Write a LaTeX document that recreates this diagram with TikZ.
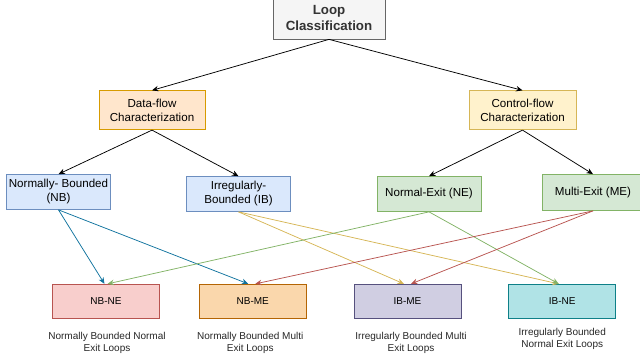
\documentclass[tikz,border=0pt]{standalone}
\usepackage{fontspec}
\setmainfont{Liberation Sans}
\usetikzlibrary{positioning,arrows.meta}

\definecolor{loopfill}{HTML}{F5F5F5}
\definecolor{loopline}{HTML}{666666}
\definecolor{looptext}{HTML}{333333}
\definecolor{dffill}{HTML}{FFE6CC}
\definecolor{dfline}{HTML}{D79B00}
\definecolor{cffill}{HTML}{FFF2CC}
\definecolor{cfline}{HTML}{D6B656}
\definecolor{bfill}{HTML}{DAE8FC}
\definecolor{bline}{HTML}{6C8EBF}
\definecolor{efill}{HTML}{D5E8D4}
\definecolor{eline}{HTML}{82B366}
\definecolor{nbnefill}{HTML}{F8CECC}
\definecolor{nbneline}{HTML}{B85450}
\definecolor{nbmefill}{HTML}{FAD7AC}
\definecolor{nbmeline}{HTML}{B46504}
\definecolor{ibmefill}{HTML}{D0CEE2}
\definecolor{ibmeline}{HTML}{56517E}
\definecolor{ibnefill}{HTML}{B0E3E6}
\definecolor{ibneline}{HTML}{0E8088}
\definecolor{nbarrow}{HTML}{10739E}
\definecolor{ibarrow}{HTML}{D6B656}
\definecolor{nearrow}{HTML}{82B366}
\definecolor{mearrow}{HTML}{B85450}

\tikzset{
  box/.style={draw, line width=0.75pt, inner sep=1pt, align=center,
    font=\fontsize{11.6}{14}\selectfont},
  rootbox/.style={box, fill=loopfill, draw=loopline, text=looptext,
    minimum width=112pt, minimum height=42pt,
    font=\bfseries\fontsize{13.3}{16}\selectfont},
  dfbox/.style={box, fill=dffill, draw=dfline, minimum width=106pt, minimum height=39pt},
  cfbox/.style={box, fill=cffill, draw=cfline, minimum width=107pt, minimum height=39pt},
  bbox/.style={box, fill=bfill, draw=bline, minimum width=104pt, minimum height=35pt},
  ebox/.style={box, fill=efill, draw=eline, minimum width=104pt, minimum height=35pt},
  leaf/.style={box, minimum width=107pt, minimum height=34pt,
    font=\fontsize{10}{12}\selectfont},
  capnote/.style={align=center, inner sep=0pt, text=black!85,
    font=\fontsize{10}{12}\selectfont},
  link/.style={-{Stealth[length=6.5pt,width=5.5pt]}, line width=0.75pt},
}

\begin{document}
\begin{tikzpicture}[x=1pt,y=1pt]

  \useasboundingbox (0,0) rectangle (640,356);

  % Root
  \node[rootbox] (loop) at (329,338) {Loop\\Classification}; %

  % Characterizations
  \node[dfbox, below=51pt of loop, xshift=-177pt] (df) {Data-flow\\Characterization}; %
  \node[cfbox, below=51pt of loop, xshift=193.5pt] (cf) {Control-flow\\Characterization}; %

  % Bounds and exits
  \node[bbox, below=44pt of df, xshift=-93.5pt] (nb) {Normally- Bounded\\(NB)}; %
  \node[bbox, below=46pt of df, xshift=86.5pt] (ib) {Irregularly-\\Bounded (IB)}; %
  \node[ebox, below=46pt of cf, xshift=-93.5pt] (ne) {Normal-Exit (NE)}; %
  \node[ebox, below=44pt of cf, xshift=70.5pt, minimum width=102pt, minimum height=36pt] (me) {Multi-Exit (ME)}; %

  % Loop classes
  \node[leaf, fill=nbnefill, draw=nbneline, below=74pt of nb, xshift=47.5pt] (nb-ne) {NB-NE}; %
  \node[leaf, fill=nbmefill, draw=nbmeline, right=39pt of nb-ne] (nb-me) {NB-ME}; %
  \node[leaf, fill=ibmefill, draw=ibmeline, right=47pt of nb-me] (ib-me) {IB-ME}; %
  \node[leaf, fill=ibnefill, draw=ibneline, right=47pt of ib-me] (ib-ne) {IB-NE}; %

  \node[capnote, below=13pt of nb-ne, xshift=1pt] (nb-ne-cap) {Normally Bounded Normal\\Exit Loops}; %
  \node[capnote, below=13pt of nb-me, xshift=-2.5pt] (nb-me-cap) {Normally Bounded Multi\\Exit Loops}; %
  \node[capnote, below=13pt of ib-me, xshift=3.5pt] (ib-me-cap) {Irregularly Bounded Multi\\Exit Loops}; %
  \node[capnote, below=9pt of ib-ne] (ib-ne-cap) {Irregularly Bounded\\Normal Exit Loops}; %

  % Edges
  \draw[link] (loop.south) -- (df.north); %
  \draw[link] (loop.south) -- (cf.north); %
  \draw[link] (df.south) -- (nb.north); %
  \draw[link] (df.south) -- (ib.north); %
  \draw[link] (cf.south) -- (ne.north); %
  \draw[link] (cf.south) -- (me.north); %

  \draw[link, nbarrow] (nb.south) -- ([xshift=-1.5pt]nb-ne.north); %
  \draw[link, nbarrow] (nb.south) -- ([xshift=-4.5pt]nb-me.north); %
  \draw[link, ibarrow] (ib.south) -- ([xshift=-3.5pt]ib-me.north); %
  \draw[link, ibarrow] (ib.south) -- ([xshift=-3.5pt]ib-ne.north); %
  \draw[link, nearrow] (ne.south) -- ([xshift=1.5pt]nb-ne.north); %
  \draw[link, nearrow] (ne.south) -- ([xshift=-3.5pt]ib-ne.north); %
  \draw[link, mearrow] (me.south) -- ([xshift=2.5pt]nb-me.north); %
  \draw[link, mearrow] (me.south) -- ([xshift=3.5pt]ib-me.north); %

\end{tikzpicture}
\end{document}
